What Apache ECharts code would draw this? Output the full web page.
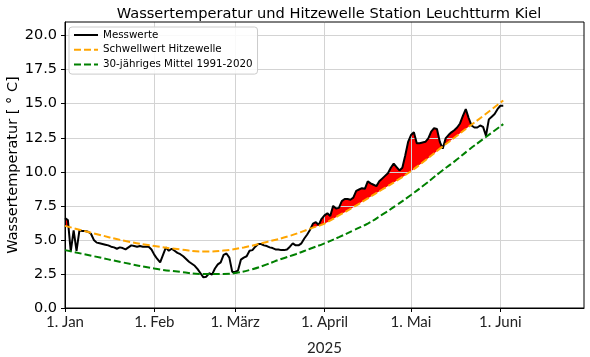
<!DOCTYPE html>
<html>
<head>
<meta charset="utf-8">
<script src="https://cdn.jsdelivr.net/npm/echarts@6/dist/echarts.min.js"></script>
<style>
html,body{margin:0;padding:0;background:#fff;}
#chart{width:590px;height:357px;}
</style>
</head>
<body>
<div id="chart"></div>
<script>
// Day index 0 = 1 Jan 2025
const tickDays = [0, 31, 59, 90, 120, 151];
const tickLabels = ['1. Jan', '1. Feb', '1. März', '1. April', '1. Mai', '1. Juni'];
const yTicks = [0, 2.5, 5, 7.5, 10, 12.5, 15, 17.5, 20];

// Daily measured water temperature from 1 Jan to 2 Jun 2025
const messwerte = [
  6.6, 6.45, 4.15, 5.7, 4.2, 5.7, 5.65, 5.65, 5.6, 5.45,
  5.0, 4.8, 4.75, 4.7, 4.65, 4.6, 4.5, 4.45, 4.35, 4.45,
  4.4, 4.3, 4.45, 4.6, 4.55, 4.5, 4.55, 4.5, 4.5, 4.5,
  4.3, 3.9, 3.6, 3.35, 3.9, 4.45, 4.2, 4.35, 4.2, 4.05,
  3.95, 3.8, 3.6, 3.4, 3.25, 3.1, 2.85, 2.55, 2.25, 2.3,
  2.55, 2.45, 2.9, 3.2, 3.35, 3.9, 4.0, 3.7, 2.65, 2.65,
  2.75, 3.55, 3.7, 3.8, 4.2, 4.25, 4.5, 4.7, 4.7, 4.6,
  4.55, 4.45, 4.4, 4.3, 4.3, 4.25, 4.25, 4.3, 4.5, 4.75,
  4.6, 4.6, 4.75, 5.1, 5.4, 5.75, 6.2, 6.3, 6.1, 6.55,
  6.8, 6.95, 6.75, 7.5, 7.3, 7.35, 7.85, 8.0, 8.0, 7.95,
  8.1, 8.6, 8.7, 8.8, 8.75, 9.3, 9.15, 9.05, 8.95, 9.3,
  9.5, 9.7, 9.9, 10.3, 10.6, 10.35, 10.1, 10.3, 11.2, 12.2,
  12.7, 12.9, 12.1, 12.1, 12.15, 12.2, 12.45, 12.95, 13.2, 13.15,
  12.2, 11.7, 12.45, 12.7, 12.9, 13.05, 13.25, 13.55, 14.1, 14.6,
  13.95, 13.4, 13.25, 13.25, 13.4, 13.3, 12.65, 13.85, 14.05, 14.25,
  14.6, 14.85, 14.85
];

// Heatwave threshold curve (read at selected days)
const thrDays   = [0, 10, 21, 31, 40, 48, 55, 62, 70, 78, 86, 90, 95, 100, 105, 110, 115, 120, 125, 130, 135, 140, 145, 152];
const thrValues = [6.03, 5.48, 4.92, 4.55, 4.3, 4.15, 4.22, 4.45, 4.85, 5.3, 5.9, 6.2, 6.8, 7.4, 8.05, 8.7, 9.35, 10.05, 10.85, 11.7, 12.5, 13.3, 14.1, 15.24];

// 30-year mean 1991-2020 (read at selected days)
const meanDays   = [0, 10, 20, 31, 40, 48, 55, 60, 65, 70, 75, 80, 85, 90, 95, 100, 105, 110, 115, 120, 125, 130, 135, 140, 145, 152];
const meanValues = [4.25, 3.8, 3.35, 2.9, 2.65, 2.5, 2.5, 2.6, 2.85, 3.2, 3.6, 3.95, 4.35, 4.75, 5.2, 5.7, 6.2, 6.85, 7.55, 8.3, 9.1, 9.95, 10.75, 11.6, 12.4, 13.5];

const measData = messwerte.map((v, i) => [i, v]);
const thrData = thrDays.map((d, i) => [d, thrValues[i]]);
const meanData = meanDays.map((d, i) => [d, meanValues[i]]);
// helper for the red exceedance fill (its right edge hidden under the June grid line)
const fillData = measData.slice(0, 152);

const dv = 'DejaVu Sans';
const chart = echarts.init(document.getElementById('chart'), null, {renderer: 'canvas'});
chart.setOption({
  animation: false,
  backgroundColor: '#fff',
  title: {
    text: 'Wassertemperatur und Hitzewelle Station Leuchtturm Kiel',
    left: 324, top: 2, textAlign: 'center',
    textStyle: {fontFamily: dv, fontSize: 14.6, fontWeight: 'normal', color: '#000'}
  },
  legend: {
    data: ['Messwerte', 'Schwellwert Hitzewelle', '30-jähriges Mittel 1991-2020'],
    orient: 'vertical', left: 69, top: 27,
    itemWidth: 24, itemHeight: 10, itemGap: 4.8,
    padding: [3, 5, 4.5, 4],
    itemStyle: {opacity: 0},
    backgroundColor: 'rgba(255,255,255,0.85)',
    borderColor: '#cccccc', borderWidth: 1, borderRadius: 3,
    textStyle: {fontFamily: dv, fontSize: 10.3, color: '#000'}
  },
  grid: {left: 65, right: 6, top: 22, bottom: 49, show: true, borderColor: '#000', borderWidth: 1, z: 4,
         backgroundColor: 'transparent', outerBoundsMode: 'none', containLabel: false},
  xAxis: {
    type: 'value', min: 0, max: 180, z: 2,
    name: '2025', nameLocation: 'middle', nameGap: 33, nameMoveOverlap: false,
    nameTextStyle: {fontFamily: 'Lato', fontSize: 15, color: '#222'},
    axisLine: {show: true, lineStyle: {color: '#000', width: 1}},
    axisTick: {show: true, length: 4, lineStyle: {color: '#000'}, customValues: tickDays},
    axisLabel: {
      customValues: tickDays, margin: 7,
      fontFamily: 'Lato', fontSize: 15, color: '#222',
      formatter: v => { const k = tickDays.indexOf(Math.round(v)); return k >= 0 ? tickLabels[k] : ''; }
    },
    splitLine: {show: true, lineStyle: {color: '#d3d3d3', width: 1}}
  },
  yAxis: {
    type: 'value', min: 0, max: 21, interval: 2.5, z: 2,
    name: 'Wassertemperatur [ ° C]', nameLocation: 'middle', nameGap: 44, nameRotate: 90, nameMoveOverlap: false,
    nameTextStyle: {fontFamily: dv, fontSize: 14.5, color: '#000'},
    axisLine: {show: true, lineStyle: {color: '#000', width: 1}},
    axisTick: {show: true, length: 4, lineStyle: {color: '#000'}, customValues: yTicks},
    axisLabel: {
      customValues: yTicks, margin: 8,
      fontFamily: dv, fontSize: 14.5, color: '#000',
      formatter: v => Number(v).toFixed(1)
    },
    splitLine: {show: true, lineStyle: {color: '#d3d3d3', width: 1}}
  },
  series: [
    {
      name: 'fillRed', type: 'line', data: fillData, symbol: 'none', silent: true, z: 1,
      lineStyle: {width: 0}, areaStyle: {color: '#ff0000', opacity: 1}
    },
    {
      name: 'fillWhite', type: 'line', data: thrData, smooth: true, symbol: 'none', silent: true, z: 1.5,
      lineStyle: {width: 0}, areaStyle: {color: '#ffffff', opacity: 1}
    },
    {
      name: 'Messwerte', type: 'line', data: measData, symbol: 'none', z: 5,
      lineStyle: {color: '#000', width: 2}, itemStyle: {color: '#000'}
    },
    {
      name: 'Schwellwert Hitzewelle', type: 'line', data: thrData, smooth: true, symbol: 'none', z: 5,
      lineStyle: {color: '#ffa500', width: 2, type: [7, 3]}, itemStyle: {color: '#ffa500'}
    },
    {
      name: '30-jähriges Mittel 1991-2020', type: 'line', data: meanData, smooth: true, symbol: 'none', z: 5,
      lineStyle: {color: '#008000', width: 2, type: [7, 3]}, itemStyle: {color: '#008000'}
    }
  ]
});
</script>
</body>
</html>
